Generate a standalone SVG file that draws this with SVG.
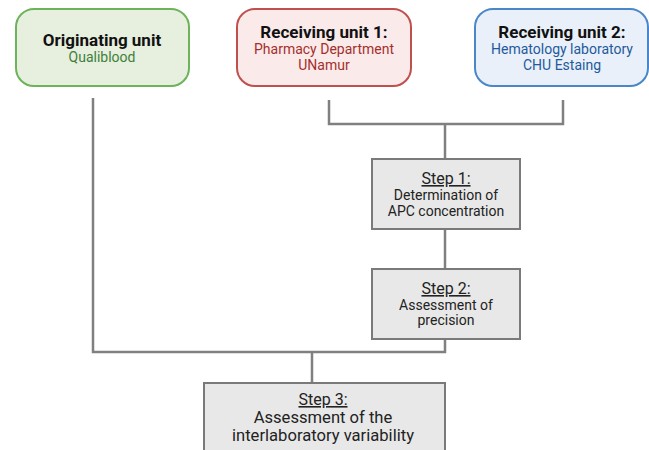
<svg xmlns="http://www.w3.org/2000/svg" width="649" height="450" viewBox="0 0 649 450">
<style>
text{font-family:Roboto,"Liberation Sans",sans-serif;text-anchor:middle}
.t{font-weight:bold;font-size:17px;fill:#111}
.s{font-size:14px}
.step{fill:#e8e8e8;stroke:#7a7a7a;stroke-width:2}
.sh{font-size:16px;fill:#222;text-decoration:underline}
.sb{font-size:14px;fill:#222}
.sb3{font-size:16.6px;fill:#222}
.c{fill:none;stroke:#808080;stroke-width:2.5}
</style>
<rect width="649" height="450" fill="#fff"/>
<g id="connectors">
<path class="c" d="M93,98 V352 H445 V339"/>
<path class="c" d="M312,352 V383"/>
<path class="c" d="M329,100 V124 H563 V100"/>
<path class="c" d="M445,124 V159"/>
<path class="c" d="M445,229 V269"/>
</g>
<g id="originating">
<rect x="16" y="9" width="173" height="77" rx="18" fill="#e7efdf" stroke="#6cb35a" stroke-width="2"/>
<text class="t" x="102" y="46">Originating unit</text>
<text class="s" x="102" y="62" fill="#3f7f3a">Qualiblood</text>
</g>
<g id="receiving1">
<rect x="237" y="9" width="174" height="77" rx="18" fill="#fbeaea" stroke="#c0504d" stroke-width="2"/>
<text class="t" x="324" y="38">Receiving unit 1:</text>
<text class="s" x="324" y="54" fill="#a3302c">Pharmacy Department</text>
<text class="s" x="324" y="70" fill="#a3302c">UNamur</text>
</g>
<g id="receiving2">
<rect x="475" y="9" width="173" height="77" rx="18" fill="#e9f0f9" stroke="#4a87c9" stroke-width="2"/>
<text class="t" x="562" y="38">Receiving unit 2:</text>
<text class="s" x="562" y="54" fill="#1f5a9c">Hematology laboratory</text>
<text class="s" x="562" y="70" fill="#1f5a9c">CHU Estaing</text>
</g>
<g id="step1">
<rect class="step" x="372" y="159" width="148" height="70"/>
<text class="sh" x="446" y="184">Step 1:</text>
<text class="sb" x="446" y="200">Determination of</text>
<text class="sb" x="446" y="216">APC concentration</text>
</g>
<g id="step2">
<rect class="step" x="372" y="269" width="148" height="70"/>
<text class="sh" x="446" y="294">Step 2:</text>
<text class="sb" x="446" y="310">Assessment of</text>
<text class="sb" x="446" y="325">precision</text>
</g>
<g id="step3">
<rect class="step" x="204" y="383" width="241" height="80"/>
<text class="sh" x="323" y="405">Step 3:</text>
<text class="sb3" x="323" y="423">Assessment of the</text>
<text class="sb3" x="323" y="441">interlaboratory variability</text>
</g>
</svg>
